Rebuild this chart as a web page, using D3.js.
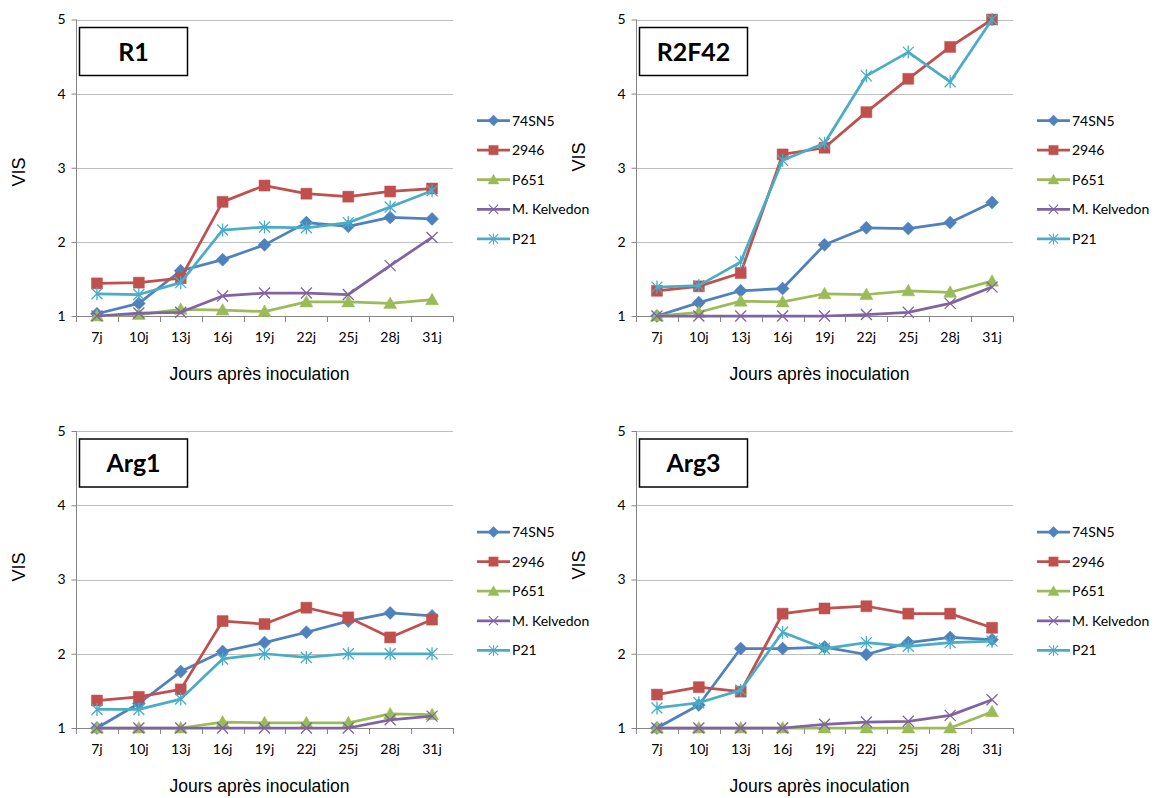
<!DOCTYPE html>
<html>
<head>
<meta charset="utf-8">
<script src="https://cdn.jsdelivr.net/npm/d3@7"></script>
<style>
  body { margin: 0; background: #fff; }
  svg { display: block; }
</style>
</head>
<body>
<svg id="chart" width="1159" height="798"></svg>
<script>
const categories = ["7j", "10j", "13j", "16j", "19j", "22j", "25j", "28j", "31j"];
const seriesNames = ["74SN5", "2946", "P651", "M. Kelvedon", "P21"];
const yTicks = [1, 2, 3, 4, 5];

const r1 = [
  [1.03, 1.17, 1.61, 1.76, 1.96, 2.26, 2.21, 2.33, 2.31],
  [1.44, 1.45, 1.51, 2.54, 2.76, 2.65, 2.61, 2.68, 2.72],
  [1.0, 1.02, 1.09, 1.08, 1.06, 1.19, 1.19, 1.17, 1.22],
  [1.0, 1.04, 1.05, 1.27, 1.31, 1.31, 1.29, 1.68, 2.06],
  [1.30, 1.29, 1.45, 2.16, 2.20, 2.19, 2.26, 2.47, 2.69]
];
const r2f42 = [
  [1.0, 1.18, 1.34, 1.37, 1.96, 2.19, 2.18, 2.26, 2.53],
  [1.34, 1.40, 1.58, 3.18, 3.27, 3.75, 4.20, 4.63, 5.0],
  [1.0, 1.05, 1.20, 1.19, 1.30, 1.29, 1.34, 1.32, 1.47],
  [1.0, 1.0, 1.0, 1.0, 1.0, 1.02, 1.05, 1.17, 1.39],
  [1.39, 1.41, 1.73, 3.10, 3.33, 4.24, 4.56, 4.16, 5.0]
];
const arg1 = [
  [1.0, 1.33, 1.76, 2.03, 2.15, 2.29, 2.44, 2.55, 2.51],
  [1.37, 1.42, 1.52, 2.44, 2.40, 2.62, 2.49, 2.22, 2.46],
  [1.0, 1.0, 1.0, 1.08, 1.07, 1.07, 1.07, 1.19, 1.18],
  [1.0, 1.0, 1.0, 1.0, 1.0, 1.0, 1.0, 1.11, 1.16],
  [1.25, 1.25, 1.39, 1.93, 2.0, 1.95, 2.0, 2.0, 2.0]
];
const arg3 = [
  [1.0, 1.31, 2.07, 2.07, 2.09, 1.99, 2.15, 2.22, 2.19],
  [1.45, 1.55, 1.49, 2.54, 2.61, 2.64, 2.54, 2.54, 2.35],
  [1.0, 1.0, 1.0, 1.0, 1.0, 1.0, 1.0, 1.0, 1.22],
  [1.0, 1.0, 1.0, 1.0, 1.05, 1.08, 1.09, 1.17, 1.38],
  [1.27, 1.34, 1.51, 2.29, 2.07, 2.15, 2.10, 2.15, 2.17]
];

const panelTitles = ["R1", "R2F42", "Arg1", "Arg3"];
const panelData = [r1, r2f42, arg1, arg3];

const colors = ["#4F81BD", "#C0504D", "#9BBB59", "#8064A2", "#4BACC6"];
const markers = ["diamond", "square", "triangle", "x", "asterisk"];

// plot area of each panel
const layout = [
  { x0: 76, x1: 453, yTop: 19.5, yBot: 316, visY: 172 },
  { x0: 636, x1: 1013, yTop: 19.5, yBot: 316, visY: 157 },
  { x0: 76, x1: 453, yTop: 431, yBot: 728, visY: 567 },
  { x0: 636, x1: 1013, yTop: 431, yBot: 728, visY: 565 }
];

const labelFont = "Lato, 'Open Sans', sans-serif";
const svg = d3.select("#chart");

function markerPath(type) {
  const p = d3.path();
  if (type === "diamond") {
    p.moveTo(0, -6.5); p.lineTo(6.5, 0); p.lineTo(0, 6.5); p.lineTo(-6.5, 0); p.closePath();
  } else if (type === "square") {
    p.rect(-5.5, -5.5, 11, 11);
  } else if (type === "triangle") {
    p.moveTo(0, -6.5); p.lineTo(6.5, 5); p.lineTo(-6.5, 5); p.closePath();
  } else if (type === "x") {
    p.moveTo(-5.5, -5.5); p.lineTo(5.5, 5.5); p.moveTo(5.5, -5.5); p.lineTo(-5.5, 5.5);
  } else {
    p.moveTo(-5.5, -5.5); p.lineTo(5.5, 5.5); p.moveTo(5.5, -5.5); p.lineTo(-5.5, 5.5);
    p.moveTo(0, -6.5); p.lineTo(0, 6.5);
  }
  return p.toString();
}

function drawPanel(i) {
  const L = layout[i];
  const data = panelData[i];
  const g = svg.append("g");

  const x = d3.scaleBand().domain(categories).range([L.x0, L.x1]);
  const y = d3.scaleLinear().domain([1, 5]).range([L.yBot, L.yTop]);

  // gridlines
  g.selectAll(".grid").data(yTicks.filter(d => d > 1)).join("line")
    .attr("x1", L.x0).attr("x2", L.x1)
    .attr("y1", d => Math.round(y(d)) + 0.5).attr("y2", d => Math.round(y(d)) + 0.5)
    .attr("stroke", "#BEBEBE").attr("stroke-width", 1);

  // y axis
  const yAxis = g.append("g")
    .attr("transform", `translate(${L.x0 + 0.5},0)`)
    .call(d3.axisLeft(y).tickValues(yTicks).tickSize(5).tickPadding(6).tickFormat(d3.format("d")));
  yAxis.select(".domain").attr("stroke", "#868686").attr("d", `M0,${L.yTop}V${L.yBot + 0.5}`);
  yAxis.selectAll(".tick line").attr("stroke", "#868686");
  yAxis.selectAll(".tick text").attr("font-family", labelFont).attr("font-size", 14).attr("fill", "#000");

  // x axis with ticks between categories
  const bounds = categories.map(c => x(c)).concat([L.x1]);
  g.append("line")
    .attr("x1", L.x0).attr("x2", L.x1)
    .attr("y1", Math.round(L.yBot) + 0.5).attr("y2", Math.round(L.yBot) + 0.5)
    .attr("stroke", "#868686");
  g.selectAll(".xtick").data(bounds).join("line")
    .attr("x1", d => Math.round(d) + 0.5).attr("x2", d => Math.round(d) + 0.5)
    .attr("y1", Math.round(L.yBot)).attr("y2", Math.round(L.yBot) + 6)
    .attr("stroke", "#868686");
  g.selectAll(".xlab").data(categories).join("text")
    .attr("x", d => x(d) + x.bandwidth() / 2)
    .attr("y", L.yBot + 26)
    .attr("text-anchor", "middle")
    .attr("font-family", labelFont).attr("font-size", 14)
    .text(d => d);

  // axis titles
  g.append("text")
    .attr("x", (L.x0 + L.x1) / 2 - 5).attr("y", L.yBot + 64)
    .attr("text-anchor", "middle")
    .attr("font-family", "'Liberation Sans', Arial, sans-serif").attr("font-size", 17.5)
    .text("Jours après inoculation");
  g.append("text")
    .attr("transform", `translate(${L.x0 - 51},${L.visY}) rotate(-90)`)
    .attr("text-anchor", "middle")
    .attr("font-family", "'Liberation Sans', Arial, sans-serif").attr("font-size", 18)
    .text("VIS");

  // series
  const line = d3.line().x((d, j) => x(categories[j]) + x.bandwidth() / 2).y(d => y(d));
  data.forEach((vals, s) => {
    const sg = g.append("g");
    sg.append("path").attr("d", line(vals))
      .attr("fill", "none").attr("stroke", colors[s]).attr("stroke-width", 2.75)
      .attr("stroke-linejoin", "round");
    const stroked = markers[s] === "x" || markers[s] === "asterisk";
    sg.selectAll("path.m").data(vals).join("path")
      .attr("class", "m")
      .attr("transform", (d, j) => `translate(${x(categories[j]) + x.bandwidth() / 2},${y(d)})`)
      .attr("d", markerPath(markers[s]))
      .attr("fill", stroked ? "none" : colors[s])
      .attr("stroke", colors[s])
      .attr("stroke-width", stroked ? 1.3 : 0.5);
  });

  // title box
  g.append("rect")
    .attr("x", L.x0 + 3.5).attr("y", L.yTop + 8)
    .attr("width", 108).attr("height", 48)
    .attr("fill", "#fff").attr("stroke", "#000").attr("stroke-width", 1.5);
  g.append("text")
    .attr("x", L.x0 + 57.5).attr("y", L.yTop + 41)
    .attr("text-anchor", "middle")
    .attr("font-family", labelFont).attr("font-weight", "bold").attr("font-size", 25)
    .text(panelTitles[i]);

  // legend
  const lg = g.append("g");
  seriesNames.forEach((name, s) => {
    const ly = L.yTop + 101 + s * 29.6;
    const lx = L.x1 + 24;
    lg.append("line").attr("x1", lx).attr("x2", lx + 33).attr("y1", ly).attr("y2", ly)
      .attr("stroke", colors[s]).attr("stroke-width", 2.75);
    const stroked = markers[s] === "x" || markers[s] === "asterisk";
    lg.append("path").attr("transform", `translate(${lx + 16.5},${ly}) scale(0.85)`)
      .attr("d", markerPath(markers[s]))
      .attr("fill", stroked ? "none" : colors[s])
      .attr("stroke", colors[s]).attr("stroke-width", stroked ? 1.3 : 0.5);
    lg.append("text").attr("x", lx + 35).attr("y", ly + 5)
      .attr("font-family", labelFont).attr("font-size", 14)
      .text(name);
  });
}

panelTitles.forEach((t, i) => drawPanel(i));
</script>
</body>
</html>
